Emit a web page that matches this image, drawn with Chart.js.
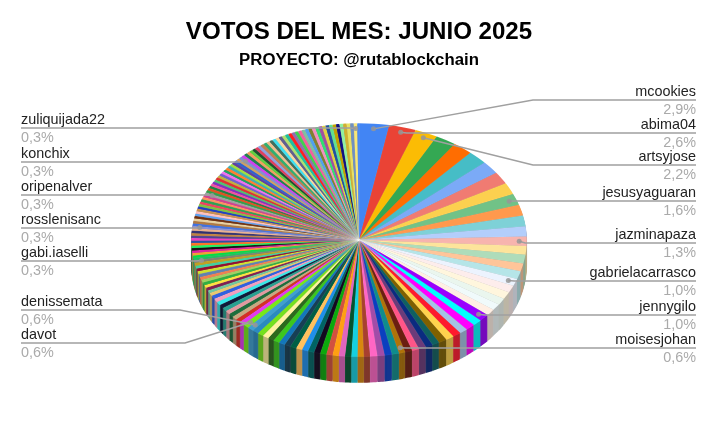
<!DOCTYPE html>
<html><head><meta charset="utf-8">
<script src="https://cdn.jsdelivr.net/npm/chart.js@4"></script>
<style>html,body{margin:0;padding:0;background:#fff}canvas{display:block}</style>
</head><body>
<canvas id="c" width="715" height="440"></canvas>
<script>
const titleText = 'VOTOS DEL MES: JUNIO 2025';
const subtitleText = 'PROYECTO: @rutablockchain';

const sliceValues = [
 2.9,2.6,2.2,2.0,1.9,1.9,1.8,1.7,1.6,1.6,
 1.5,1.5,1.4,1.3,1.2,1.2,1.1,1.1,1.0,
 1.0,1.0,0.9,0.9,0.9,1.0,
 0.9,0.9,0.8,0.8,0.8,0.8,0.7,0.7,0.7,0.7,0.7,0.6,
 0.7,0.7,0.7,0.7,0.6,0.6,0.6,0.6,0.6,0.6,0.6,0.6,0.6,0.6,0.6,0.6,0.6,0.6,0.6,0.6,0.6,0.6,0.6,0.6,
 0.6,0.6,
 0.5,0.5,0.5,0.5,0.5,0.5,0.5,0.5,0.5,0.5,0.4,0.4,0.4,0.4,0.4,0.4,0.4,0.4,0.4,0.4,0.4,0.4,
 0.34,
 0.34,0.34,0.34,0.34,0.34,0.34,0.34,0.34,0.34,0.34,0.34,0.34,0.34,
 0.34,
 0.34,0.34,0.34,0.34,0.34,0.34,0.34,0.34,0.34,0.34,0.34,0.34,0.34,
 0.34,
 0.33,0.33,0.33,0.33,0.33,0.33,0.33,0.33,0.33,0.33,0.33,0.33,0.33,0.33,0.33,0.33,0.33,
 0.34,
 0.34,0.34,0.34,0.34,0.34,0.34,0.34,0.34,0.34,0.34,0.34,0.34,0.34,0.34,0.34,0.34,0.34,0.34,
 0.34,0.34,0.34,0.34,0.34,0.34,0.34,0.34,0.34,0.34,0.34,0.34,0.34,0.34,0.34,0.34,0.34,
 0.34,
 0.16
];

const sliceColors = [
 '#4285F4','#EA4335','#FBBC04','#34A853','#FF6D01','#46BDC6','#7BAAF7','#F07B72','#FCD04F','#71C287',
 '#FF994D','#7ED1D7','#B3CEFB','#F7B4AE','#FDE49B','#AEDCBA','#FFC599','#B5E5E8','#ECF3FE',
 '#FDEDEC','#FFF6DD','#EAF6EE','#F0FAFB','#FFEFE4','#9900FF',
 '#00FFFF','#FF00FF','#A4C2E4','#FF1A2D','#FFD34D','#7F6000','#0F6060','#0A2B80','#6B3B7A','#FF5588','#6B1F10','#B07308',
 '#0F8C8C','#0B3FBF','#A24CA8','#FF66C4','#A8402F','#D8880F','#15D0E0','#03532F','#E065BE','#FF9F12','#D2513F','#0CA80C',
 '#12081F','#006464','#1F8FEA','#FFC15E','#005F45','#173F55','#1377BA','#3CC61F','#2D6A1D','#FFF3A0','#75E01E','#2A8AC0',
 '#3F9FD0','#77E81A',
 '#E23AF0','#D43025','#C8A880','#1E6E3C','#E09AA0','#28A090','#0F1A3A','#38E8E8','#F0A0C0','#3060E0','#E8C870','#70C8A0',
 '#802050','#FFE040','#30B040','#A0D060','#F08050','#6080B0','#D0E030','#901030','#40D0A0','#C0A020',
 '#808070',
 '#20C060','#00E040','#F0A030','#E020A0','#101010','#20F060','#FF7020','#3050A0','#F040C0','#504090','#C08040','#303070','#E8B090',
 '#9090D0',
 '#4070E0','#B07840','#E8D0A0','#703010','#60A0F0','#FFC0C0','#C89050','#2040C0','#80C040','#F04060','#30A050','#FF9060','#D04090',
 '#A0A0A0',
 '#30A048','#E05020','#208040','#F050A0','#8030C0','#50C070','#E03030','#C0B040','#7060D0','#F070F0','#20A060','#FF8030','#40B0B0','#A0E040','#6040A0','#3060D0','#D0A060',
 '#8090D0',
 '#D040F0','#208050','#F0A060','#60D040','#205030','#E04060','#90A0E0','#C08050','#30B070','#F0C090','#407060','#40E0F0','#F8D8A0','#606090','#B0E070','#20C0A0','#FF2020',
 '#9070B0','#40D050','#F060A0','#80C0A0','#50A0F0','#808030','#F090C0','#30E070','#A050A0','#E0D040','#2050A0','#60E090','#C0A000','#101080','#90F0A0','#D0B030','#E8E060',
 '#7090C0',
 '#F8E878'
];

const labeledIndexes = [0,1,2,9,13,18,24,36,167,131,113,99,85,61,62];
const labeledNames = ['mcookies','abima04','artsyjose','jesusyaguaran','jazminapaza','gabrielacarrasco','jennygilo','moisesjohan','zuliquijada22','konchix','oripenalver','rosslenisanc','gabi.iaselli','denissemata','davot'];
const categories = sliceValues.map((_, i) => { const k = labeledIndexes.indexOf(i); return k < 0 ? '' : labeledNames[k]; });

// callout layout: line height, optional elbow x; side of the label
const callouts = [
 {name:'mcookies', side:'r', y:100, elbow:533},
 {name:'abima04', side:'r', y:133},
 {name:'artsyjose', side:'r', y:165, elbow:533},
 {name:'jesusyaguaran', side:'r', y:201},
 {name:'jazminapaza', side:'r', y:243},
 {name:'gabrielacarrasco', side:'r', y:281},
 {name:'jennygilo', side:'r', y:315},
 {name:'moisesjohan', side:'r', y:348},
 {name:'zuliquijada22', side:'l', y:128},
 {name:'konchix', side:'l', y:162},
 {name:'oripenalver', side:'l', y:195},
 {name:'rosslenisanc', side:'l', y:228},
 {name:'gabi.iaselli', side:'l', y:261},
 {name:'denissemata', side:'l', y:310, elbow:180},
 {name:'davot', side:'l', y:343, elbow:185}
];

const SQUASH = 117/168, DEPTH = 26, DOT_R = 0.955;
const LEFT_X = 21, RIGHT_X = 696;

function squash(ctx, area, dy){
  const cx=(area.left+area.right)/2, cy=(area.top+area.bottom)/2;
  ctx.translate(cx, cy+dy); ctx.scale(1,SQUASH); ctx.translate(-cx,-cy);
}

const pie3d = {
  id:'pie3d',
  beforeDatasetDraw(chart,args){
    const ctx=chart.ctx, meta=args.meta;
    for(let d=DEPTH;d>=1;d--){
      ctx.save(); squash(ctx,chart.chartArea,d);
      ctx.filter='brightness(0.74)';
      meta.data.forEach(el=>el.draw(ctx));
      ctx.restore();
    }
    ctx.save(); squash(ctx,chart.chartArea,0);
  },
  afterDatasetDraw(chart){ chart.ctx.restore(); },
  afterDatasetsDraw(chart){
    const ctx=chart.ctx, meta=chart.getDatasetMeta(0), a=chart.chartArea;
    const cx=(a.left+a.right)/2, cy=(a.top+a.bottom)/2;
    ctx.save();
    callouts.forEach(c=>{
      const i=categories.indexOf(c.name), el=meta.data[i];
      const mid=(el.startAngle+el.endAngle)/2, r=el.outerRadius*DOT_R;
      const px=cx+Math.cos(mid)*r, py=cy+Math.sin(mid)*r*SQUASH;
      const endX=c.side==='r'?RIGHT_X:LEFT_X;
      ctx.strokeStyle='#a0a0a0'; ctx.lineWidth=1.5;
      ctx.beginPath(); ctx.moveTo(px,py);
      if(c.elbow) ctx.lineTo(c.elbow,c.y);
      else ctx.lineTo(c.side==='r'?px+6:px-6,c.y);
      ctx.lineTo(endX,c.y); ctx.stroke();
      ctx.fillStyle='rgba(150,150,150,0.85)';
      ctx.beginPath(); ctx.arc(px,py,2.5,0,Math.PI*2); ctx.fill();
      ctx.textAlign=c.side==='r'?'right':'left'; ctx.textBaseline='alphabetic';
      ctx.font='14.4px "Liberation Sans"';
      ctx.fillStyle='#222222';
      ctx.fillText(c.name,endX,c.y-4.5);
      ctx.fillStyle='#aaaaaa';
      ctx.fillText(sliceValues[i].toFixed(1).replace('.',',')+'%',endX,c.y+14);
    });
    ctx.restore();
  }
};

new Chart(document.getElementById('c'),{
  type:'pie',
  data:{labels:categories,datasets:[{data:sliceValues,backgroundColor:sliceColors,borderColor:'rgba(255,255,255,0.14)',borderWidth:0.5,clip:false}]},
  options:{
    responsive:false,animation:false,devicePixelRatio:1,
    layout:{padding:{left:3,right:0,top:0,bottom:32}},
    events:[],
    plugins:{
      legend:{display:false},tooltip:{enabled:false},
      title:{display:true,text:titleText,color:'#000',font:{family:'"Liberation Sans"',size:24.1,weight:'bold',lineHeight:1.2},padding:{top:17.5,bottom:3.6}},
      subtitle:{display:true,text:subtitleText,color:'#000',font:{family:'"Liberation Sans"',size:16.8,weight:'bold',lineHeight:1.2},padding:{top:0,bottom:1.8}}
    }
  },
  plugins:[pie3d]
});
</script>
</body></html>
